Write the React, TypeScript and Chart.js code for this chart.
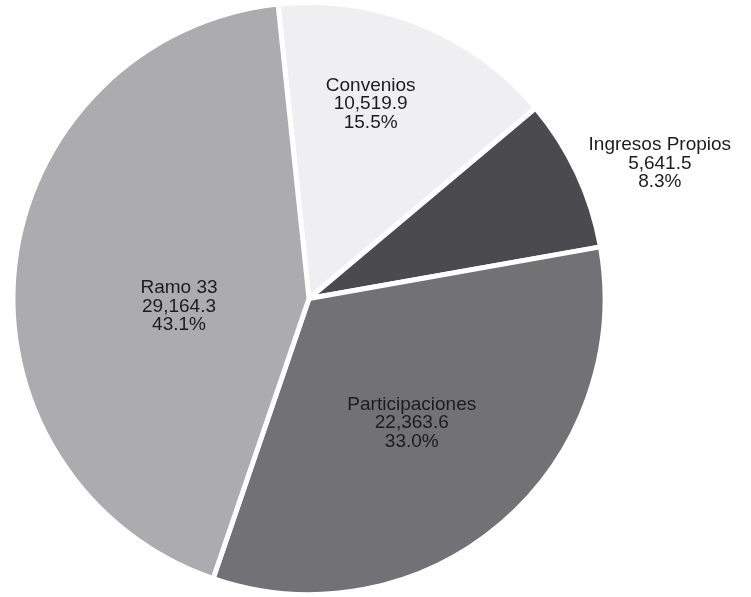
import React, { useEffect, useRef } from "react";
import { Chart, registerables } from "chart.js";

Chart.register(...registerables);

const categories = ["Convenios", "Ingresos Propios", "Participaciones", "Ramo 33"];
const values = [10519.9, 5641.5, 22363.6, 29164.3];
const colors = ["#efeff1", "#4b4b4d", "#727274", "#acacae"];
const labelRadius = [0.69, 1.27, 0.545, 0.44];
const labelAngleShift = [-4.4, 4, 1, -10];

const fmtValue = (v: number) =>
  v.toLocaleString("en-US", { minimumFractionDigits: 1, maximumFractionDigits: 1 });

const labelPlugin = {
  id: "sliceLabels",
  afterDraw(chart: any) {
    const ctx = chart.ctx;
    const meta = chart.getDatasetMeta(0);
    const data = chart.data.datasets[0].data as number[];
    const total = data.reduce((a, b) => a + b, 0);
    ctx.save();
    ctx.font = "19px 'Liberation Sans', Arial, sans-serif";
    ctx.fillStyle = "#1c1c1c";
    ctx.textAlign = "center";
    ctx.textBaseline = "middle";
    const lh = 18.5;
    meta.data.forEach((arc: any, i: number) => {
      const { x, y, startAngle, endAngle, outerRadius } = arc.getProps(
        ["x", "y", "startAngle", "endAngle", "outerRadius"],
        true
      );
      const mid = (startAngle + endAngle) / 2 + (labelAngleShift[i] * Math.PI) / 180;
      const r = outerRadius * labelRadius[i];
      const cx = x + Math.cos(mid) * r;
      const cy = y + Math.sin(mid) * r;
      const lines = [
        chart.data.labels[i],
        fmtValue(data[i]),
        ((data[i] / total) * 100).toFixed(1) + "%",
      ];
      lines.forEach((t: string, k: number) => ctx.fillText(t, cx, cy + (k - 1) * lh));
    });
    ctx.restore();
  },
};

export default function App() {
  const ref = useRef<HTMLCanvasElement>(null);
  useEffect(() => {
    const chart = new Chart(ref.current!, {
      type: "pie",
      data: {
        labels: categories,
        datasets: [
          {
            data: values,
            backgroundColor: colors,
            borderColor: "#ffffff",
            borderWidth: 5,
          },
        ],
      },
      options: {
        animation: false,
        responsive: false,
        rotation: -6,
        layout: { padding: { left: 10, right: 143, top: 0, bottom: 0 } },
        plugins: {
          legend: { display: false },
          tooltip: { enabled: false },
        },
      },
      plugins: [labelPlugin],
    });
    return () => chart.destroy();
  }, []);
  return (
    <div style={{ position: "fixed", left: 0, top: 0, width: 751, height: 597, background: "#fff" }}>
      <canvas ref={ref} width={751} height={597} style={{ width: 751, height: 597 }} />
    </div>
  );
}
